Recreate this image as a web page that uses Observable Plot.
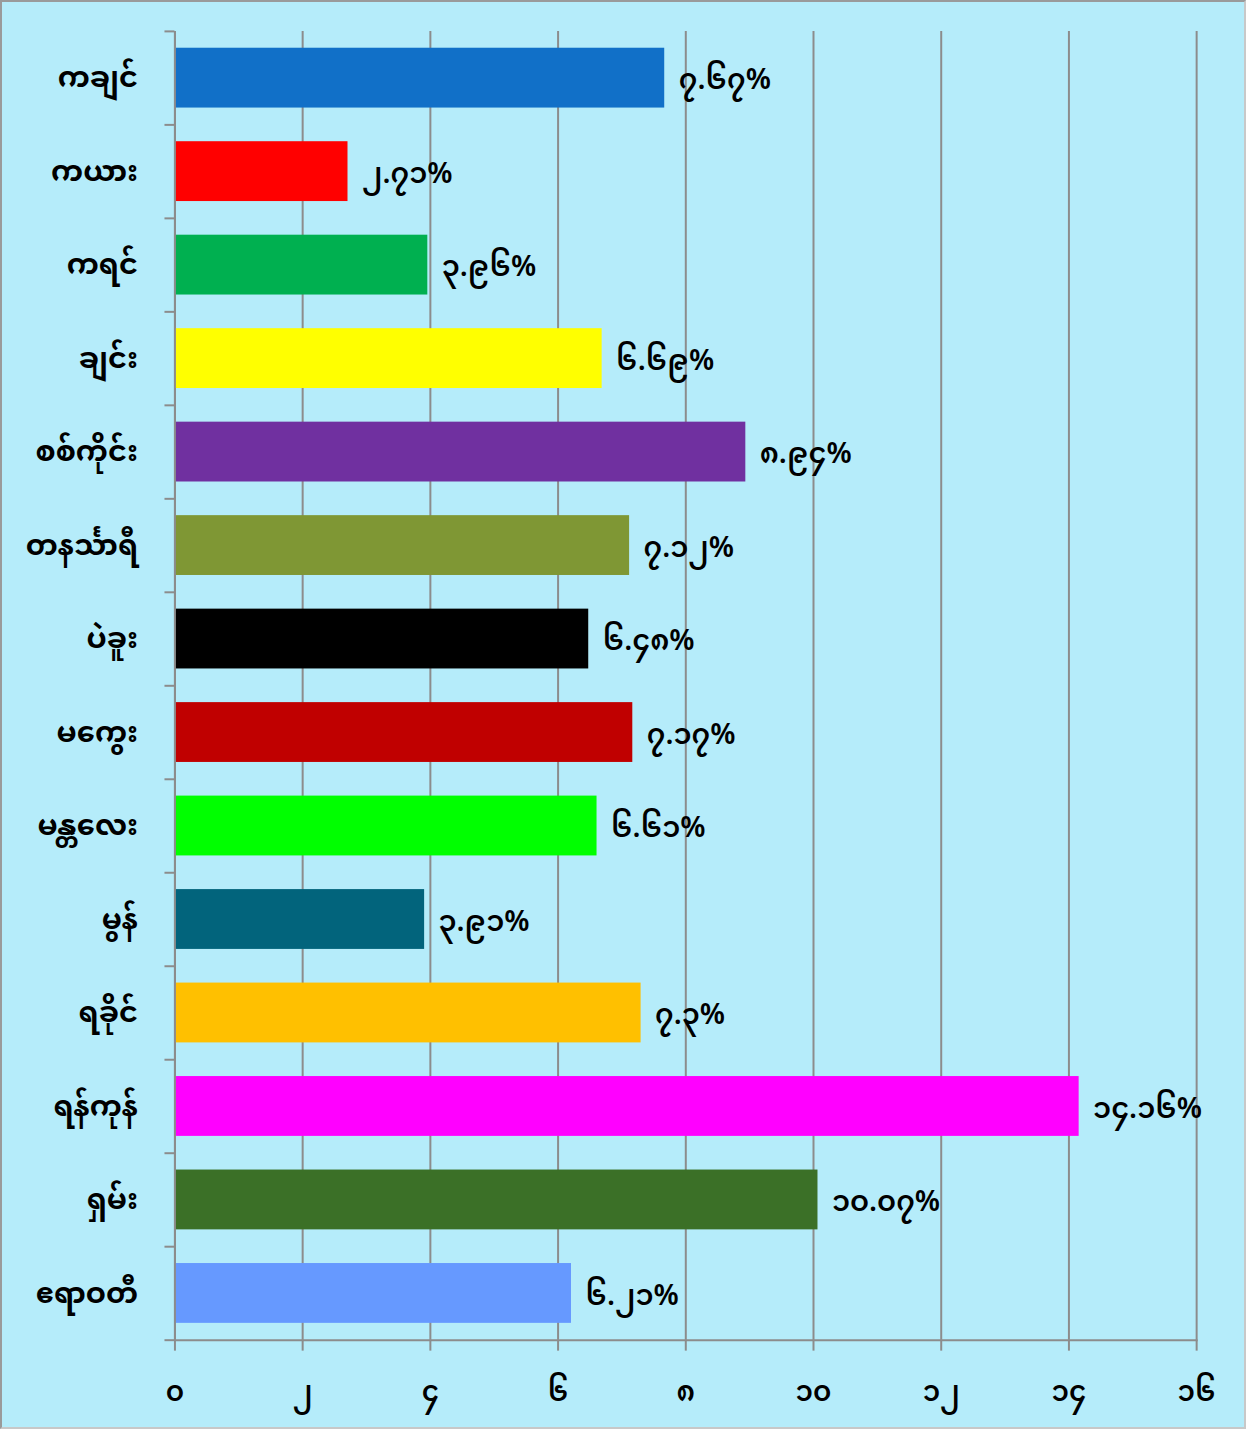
<!DOCTYPE html>
<html>
<head>
<meta charset="utf-8">
<script src="https://cdn.jsdelivr.net/npm/d3@7"></script>
<script src="https://cdn.jsdelivr.net/npm/@observablehq/plot@0.6"></script>
<style>
  html, body { margin: 0; padding: 0; background: #b5ecfa; }
  #chart { width: 1246px; height: 1429px; box-sizing: border-box; border: 2px solid #9a9a9a; border-right-color: #c8c8c8; border-bottom-color: #c8c8c8; position: relative; overflow: hidden; }
  #chart svg { position: absolute; left: -2px; top: -2px; }
</style>
</head>
<body>
<div id="chart"></div>
<script>
const regions = ["ကချင်", "ကယား", "ကရင်", "ချင်း", "စစ်ကိုင်း", "တနင်္သာရီ", "ပဲခူး", "မကွေး", "မန္တလေး", "မွန်", "ရခိုင်", "ရန်ကုန်", "ရှမ်း", "ဧရာဝတီ"];
const values = [7.67, 2.71, 3.96, 6.69, 8.94, 7.12, 6.48, 7.17, 6.61, 3.91, 7.3, 14.16, 10.07, 6.21];
const valueLabels = ["7.67", "2.71", "3.96", "6.69", "8.94", "7.12", "6.48", "7.17", "6.61", "3.91", "7.3", "14.16", "10.07", "6.21"];
const barColors = ["#1170c8", "#ff0000", "#00b050", "#ffff00", "#7030a0", "#7f9734", "#000000", "#c00000", "#00ff00", "#02647c", "#ffc000", "#ff00ff", "#3b7027", "#6699ff"];
const xTicks = [0, 2, 4, 6, 8, 10, 12, 14, 16];

const myDigits = "၀၁၂၃၄၅၆၇၈၉";
const toMy = s => String(s).replace(/[0-9]/g, d => myDigits[+d]);

const data = regions.map((r, i) => ({region: r, value: values[i], label: toMy(valueLabels[i]) + "%", color: barColors[i]}));

const W = 1246, H = 1429;
const mTop = 31, mBottom = 85, mLeft = 175, mRight = 46;
const step = (H - mTop - mBottom) / regions.length;
const font = "'Noto Sans Myanmar', 'Noto Sans', sans-serif";

const chart = Plot.plot({
  width: W,
  height: H,
  marginTop: mTop,
  marginBottom: mBottom,
  marginLeft: mLeft,
  marginRight: mRight,
  style: {background: "transparent", fontFamily: font, color: "#000"},
  x: {domain: [0, 16], ticks: xTicks, tickFormat: d => toMy(d), label: null},
  y: {domain: regions, paddingInner: 0.36, paddingOuter: 0.18, align: 0.5, round: false, label: null},
  marks: [
    Plot.gridX(xTicks, {stroke: "#8c8c8c", strokeOpacity: 1, strokeWidth: 2}),
    Plot.barX(data, {y: "region", x: "value", fill: "color"}),
    Plot.text(data, {y: "region", x: "value", text: "label", textAnchor: "start", dx: 14, dy: 2, fontSize: 29, fontWeight: 600, fill: "#000"}),
    Plot.ruleX([0], {stroke: "#8c8c8c", strokeWidth: 2}),
    Plot.frame({anchor: "bottom", stroke: "#8c8c8c", strokeWidth: 2}),
    Plot.axisX({ticks: xTicks, tickSize: 11, tickPadding: 30, fontSize: 28, fontWeight: 600, stroke: "#8c8c8c", strokeWidth: 2, tickFormat: d => toMy(d), label: null}),
    Plot.axisY({ticks: regions, tickSize: 10, text: null, dy: -step / 2, stroke: "#8c8c8c", strokeWidth: 2, label: null}),
    Plot.axisY({ticks: regions.slice(-1), tickSize: 10, text: null, dy: step / 2, stroke: "#8c8c8c", strokeWidth: 2, label: null}),
    Plot.axisY({ticks: regions, tickSize: 0, tickPadding: 37, fontSize: 29, fontWeight: "bold", label: null})
  ]
});
document.getElementById("chart").appendChild(chart);
</script>
</body>
</html>
